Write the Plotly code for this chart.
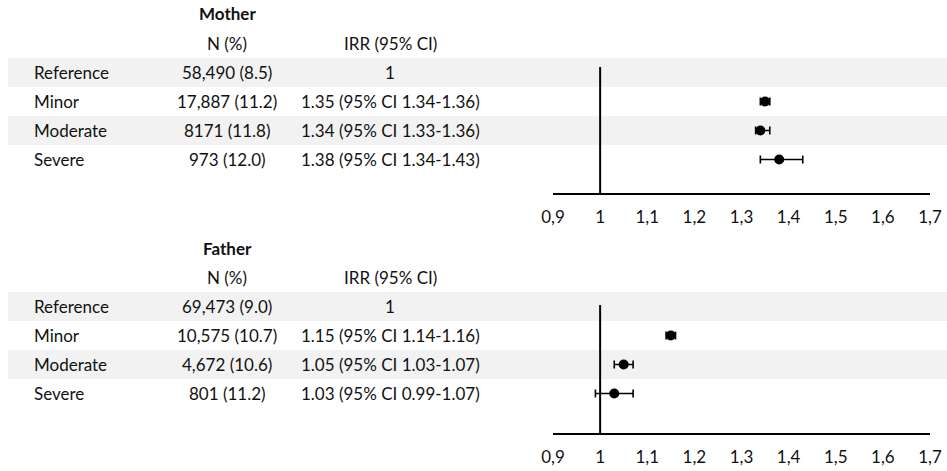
import plotly.graph_objects as go

# ---------------- data ----------------
categories = ["Reference", "Minor", "Moderate", "Severe"]

mother_n = ["58,490 (8.5)", "17,887 (11.2)", "8171 (11.8)", "973 (12.0)"]
mother_irr = [1.0, 1.35, 1.34, 1.38]
mother_lo = [1.0, 1.34, 1.33, 1.34]
mother_hi = [1.0, 1.36, 1.36, 1.43]
mother_irr_text = ["1", "1.35 (95% CI 1.34-1.36)", "1.34 (95% CI 1.33-1.36)",
                   "1.38 (95% CI 1.34-1.43)"]

father_n = ["69,473 (9.0)", "10,575 (10.7)", "4,672 (10.6)", "801 (11.2)"]
father_irr = [1.0, 1.15, 1.05, 1.03]
father_lo = [1.0, 1.14, 1.03, 0.99]
father_hi = [1.0, 1.16, 1.07, 1.07]
father_irr_text = ["1", "1.15 (95% CI 1.14-1.16)", "1.05 (95% CI 1.03-1.07)",
                   "1.03 (95% CI 0.99-1.07)"]

tick_vals = [0.9, 1.0, 1.1, 1.2, 1.3, 1.4, 1.5, 1.6, 1.7]
tick_text = ["0,9", "1", "1,1", "1,2", "1,3", "1,4", "1,5", "1,6", "1,7"]

# ---------------- layout helpers ----------------
W, H = 947, 471
FONT = "Lato"
FS = 17
TXT = "#111111"
ROW_H = 29


def py(px):
    return 1 - px / H


def pxx(px):
    return px / W


fig = go.Figure()
annotations = []
shapes = []

panels = [
    dict(title="Mother", n=mother_n, irr=mother_irr, lo=mother_lo, hi=mother_hi,
         txt=mother_irr_text, title_y=14, head_y=44, band_top=58, axis_y=193,
         vline_top=67, xa="x", ya="y"),
    dict(title="Father", n=father_n, irr=father_irr, lo=father_lo, hi=father_hi,
         txt=father_irr_text, title_y=248, head_y=277, band_top=292, axis_y=433,
         vline_top=305, xa="x2", ya="y2"),
]

LABEL_X = 33
N_X = 227
IRR_X = 390
X0_PX, X1_PX = 553, 930


def ann(text, xpx, ypx, anchor="center"):
    return dict(text=text, x=pxx(xpx), y=py(ypx), xref="paper", yref="paper",
                xanchor=anchor, yanchor="middle", showarrow=False, borderpad=0,
                font=dict(family=FONT, size=FS, color=TXT))


for i, p in enumerate(panels):
    annotations.append(ann("<b>%s</b>" % p["title"], N_X, p["title_y"]))
    annotations.append(ann("N (%)", N_X, p["head_y"]))
    annotations.append(ann("IRR (95% CI)", IRR_X, p["head_y"]))
    for r, cat in enumerate(categories):
        yc = p["band_top"] + ROW_H / 2 + r * ROW_H
        if r % 2 == 0:
            shapes.append(dict(type="rect", xref="paper", yref="paper",
                               x0=pxx(8), x1=1, y0=py(yc + ROW_H / 2), y1=py(yc - ROW_H / 2),
                               fillcolor="#f2f2f2", line=dict(width=0), layer="below"))
        annotations.append(ann(cat, LABEL_X, yc, "left"))
        annotations.append(ann(p["n"][r], N_X, yc))
        annotations.append(ann(p["txt"][r], IRR_X, yc))

    # forest points (skip reference row)
    xs = p["irr"][1:]
    ys = list(range(1, len(categories)))
    plus = [h - v for h, v in zip(p["hi"][1:], xs)]
    minus = [v - l for v, l in zip(xs, p["lo"][1:])]
    fig.add_trace(go.Scatter(
        x=xs, y=ys, mode="markers", xaxis=p["xa"], yaxis=p["ya"],
        marker=dict(color="black", size=10),
        error_x=dict(type="data", symmetric=False, array=plus, arrayminus=minus,
                     color="black", thickness=1.6, width=4),
        showlegend=False, hoverinfo="skip"))

    ybot = (p["axis_y"] - p["band_top"]) / ROW_H - 0.5
    ytop_line = (p["vline_top"] - p["band_top"]) / ROW_H - 0.5
    shapes.append(dict(type="line", xref=p["xa"], yref=p["ya"], x0=1, x1=1,
                       y0=ytop_line, y1=ybot, line=dict(color="black", width=2)))

    dom_y = [py(p["axis_y"]), py(p["band_top"])]
    xkey = "xaxis" if i == 0 else "xaxis2"
    ykey = "yaxis" if i == 0 else "yaxis2"
    fig.layout[xkey] = dict(domain=[pxx(X0_PX), pxx(X1_PX)], range=[0.9, 1.7],
                            anchor=p["ya"], tickvals=tick_vals, ticktext=tick_text,
                            showline=True, linecolor="black", linewidth=1.5,
                            showgrid=False, zeroline=False, ticks="", ticklabelstandoff=8,
                            automargin=False,
                            tickfont=dict(family=FONT, size=FS, color=TXT), fixedrange=True)
    fig.layout[ykey] = dict(domain=dom_y, range=[ybot, -0.5], anchor=p["xa"],
                            automargin=False,
                            visible=False, showgrid=False, zeroline=False, fixedrange=True)

fig.update_layout(width=W, height=H, autosize=False,
                  margin=dict(l=0, r=0, t=0, b=0, pad=0, autoexpand=False),
                  paper_bgcolor="white", plot_bgcolor="rgba(0,0,0,0)",
                  annotations=annotations, shapes=shapes, showlegend=False)

fig.write_html("out.html", config={"displayModeBar": False, "responsive": False},
               post_script="document.body.style.margin='0';document.body.style.overflow='hidden';")
